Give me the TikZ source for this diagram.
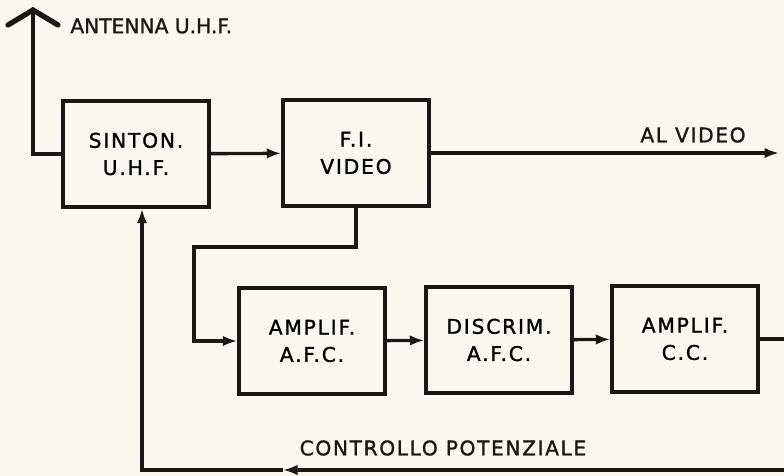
\documentclass[tikz,border=0pt]{standalone}
\usepackage{fontspec}
\setsansfont{DejaVu Sans}[FakeBold=1.3]
\newfontfamily\boxfont{DejaVu Sans}[LetterSpace=9,FakeBold=1.3]
\newfontfamily\labfont{DejaVu Sans}[LetterSpace=8,FakeBold=1.3]
\usepackage{tikz}
\usetikzlibrary{arrows.meta,positioning}
\definecolor{ink}{RGB}{26,24,22}
\definecolor{paper}{RGB}{249,247,239}

\begin{document}
\begin{tikzpicture}[x=0.02cm,y=-0.02cm,font=\fontsize{11.5}{15.5}\selectfont\sffamily,
    wire/.style={ink,line width=1.9pt},
    arr/.style={wire,-{Latex[length=2.9mm,width=2.1mm]}},
    block/.style={draw=ink,line width=2pt,minimum width=2.92cm,minimum height=2.12cm,
                  align=center,inner sep=0pt,font=\fontsize{11.5}{15.5}\selectfont\boxfont},
    tag/.style={ink,inner sep=0pt,font=\fontsize{11.5}{13}\selectfont\labfont}]
  \useasboundingbox (0,0) rectangle (784,476);
  \fill[paper] (0,0) rectangle (784,476);
  \clip (0,0) rectangle (784,476);
  \newcommand{\rfblock}[4]{
    \node[block] (#1) at (#2,#3) {#4};}
  \rfblock{sinton}{136}{154}{SINTON.\\U.H.F.}
  \rfblock{fivideo}{356}{153}{F.I.\\VIDEO}
  \rfblock{ampafc}{312}{341}{AMPLIF.\\A.F.C.}
  \rfblock{discrim}{499}{340}{DISCRIM.\\A.F.C.}
  \rfblock{ampcc}{685}{339}{AMPLIF.\\C.C.}
  % antenna
  \coordinate (ant) at (33,10);
  \draw[ink,line width=3pt,line cap=round] (8,25) -- (ant) -- (58,25);
  \draw[wire] (sinton.west) -- (sinton.west -| ant) -- (ant);
  \node[tag,anchor=west,font=\fontsize{11.5}{13}\selectfont\sffamily] (antlab) at (70,26) {ANTENNA U.H.F.};
  % main chain
  \draw[arr] (sinton) -- (fivideo);
  \coordinate (out) at (779,153);
  \draw[arr] (fivideo.east |- out) -- (out);
  \node[tag] (video) at (693,135) {AL VIDEO};
  \coordinate (tap) at (194,247);
  \draw[arr] (fivideo.south) |- (tap) |- (ampafc.west);
  \draw[arr] (ampafc) -- (discrim);
  \draw[arr] (discrim) -- (ampcc);
  % feedback
  \coordinate (fbr) at (792,339);
  \coordinate (fba) at (283,470);
  \coordinate (fbl) at (142,470);
  \draw[arr] (ampcc.east) -- (fbr) |- (fba);
  \draw[arr] (fba) -- (fbl) -- (fbl |- sinton.south);
  \node[tag] (ctrl) at (443,448) {CONTROLLO POTENZIALE};
\end{tikzpicture}
\end{document}
